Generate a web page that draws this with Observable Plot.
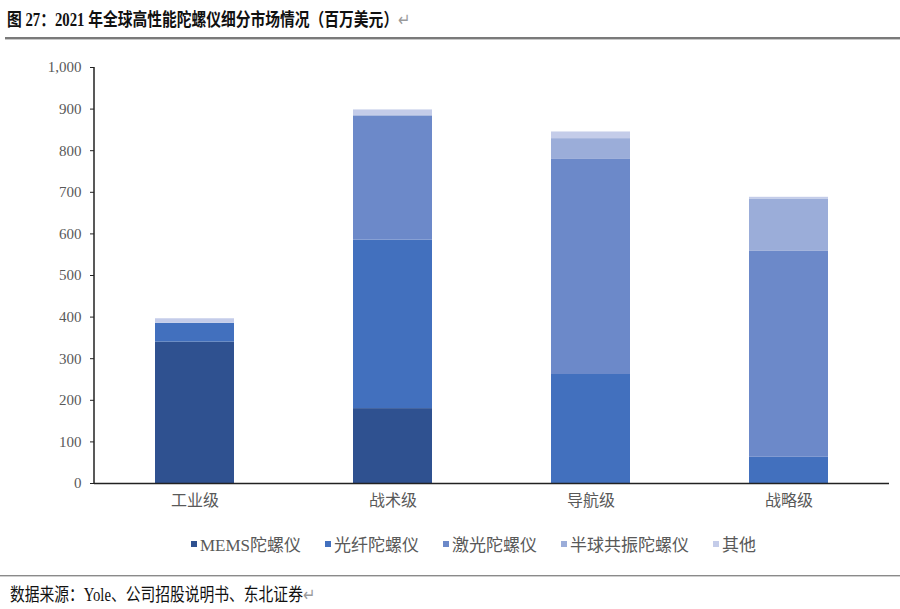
<!DOCTYPE html>
<html>
<head>
<meta charset="utf-8">
<script src="https://cdn.jsdelivr.net/npm/d3@7"></script>
<script src="https://cdn.jsdelivr.net/npm/@observablehq/plot@0.6"></script>
<style>
  html, body { margin: 0; padding: 0; background: #fff; }
  #wrap { position: relative; width: 900px; height: 609px; overflow: hidden; }
  #title { position: absolute; left: 7px; top: 5px; font-family: "Liberation Serif", "Noto Sans CJK SC", serif; font-weight: bold; font-size: 18px; color: #111; white-space: nowrap; transform: scaleX(0.82); transform-origin: left center; }
  .ret { color: #9a9a9a; font-weight: normal; }
  #tline { position: absolute; left: 5px; right: 0; top: 37px; height: 2px; background: #7a7a7a; border-bottom: 1px solid #c8c8c8; }
  #chart { position: absolute; left: 0; top: 50px; }
  #legend { position: absolute; left: 191px; top: 531px; display: flex; gap: 24px; font-family: "Liberation Serif", "Noto Sans CJK SC", serif; font-size: 17px; color: #595959; white-space: nowrap; }
  #legend .item { display: flex; align-items: center; }
  #legend .sw { width: 6px; height: 6px; margin-right: 3px; display: inline-block; }
  #fline { position: absolute; left: 0; right: 0; top: 575px; height: 1px; background: #8a8a8a; border-bottom: 1px solid #d0d0d0; }
  #footer { position: absolute; left: 10px; top: 580px; font-family: "Liberation Serif", "Noto Sans CJK SC", serif; font-size: 18px; color: #111; white-space: nowrap; transform: scaleX(0.82); transform-origin: left center; }
</style>
</head>
<body>
<div id="wrap">
  <div id="title">图 27：2021 年全球高性能陀螺仪细分市场情况（百万美元）<span class="ret">↵</span></div>
  <div id="tline"></div>
  <div id="chart"></div>
  <div id="legend"></div>
  <div id="fline"></div>
  <div id="footer">数据来源：Yole、公司招股说明书、东北证券<span class="ret">↵</span></div>
</div>
<script>
const categories = ["工业级", "战术级", "导航级", "战略级"];
const series = ["MEMS陀螺仪", "光纤陀螺仪", "激光陀螺仪", "半球共振陀螺仪", "其他"];
const colors = ["#2f5190", "#4270be", "#6c89c9", "#9badd9", "#c4cce9"];
const mems = [340, 180, 0, 0];
const fiber = [45, 405, 262, 63];
const laser = [0, 298, 517, 495];
const hrg = [0, 3, 50, 126];
const other = [11, 12, 16, 4];
const yTicks = [0, 100, 200, 300, 400, 500, 600, 700, 800, 900, 1000];

const seriesValues = [mems, fiber, laser, hrg, other];
const rows = [];
categories.forEach((c, i) => {
  series.forEach((s, j) => rows.push({ cat: c, series: s, value: seriesValues[j][i] }));
});

const plot = Plot.plot({
  width: 900,
  height: 470,
  marginTop: 17,
  marginBottom: 37,
  marginLeft: 94,
  marginRight: 11,
  x: { domain: categories, paddingInner: 0.6, paddingOuter: 0.3, label: null },
  y: { domain: [0, 1000], label: null },
  color: { domain: series, range: colors },
  style: { background: "#fff", overflow: "visible" },
  marks: [
    Plot.barY(rows, { x: "cat", y: "value", fill: "series", order: series }),
    Plot.axisY({ ticks: yTicks, tickFormat: d3.format(","), tickSize: 4, tickPadding: 9, stroke: "#222", fill: "#595959", fontSize: 15, fontFamily: "Liberation Serif, serif", label: null }),
    Plot.axisX({ tickSize: 0, tickPadding: 11, fill: "#595959", fontSize: 16, fontFamily: "Noto Sans CJK SC, sans-serif", label: null }),
    Plot.ruleY([0], { stroke: "#222", strokeWidth: 1.5 })
  ]
});

// y axis line drawn from the scales
const ys = plot.scale("y");
const xs = plot.scale("x");
d3.select(plot).append("line")
  .attr("x1", xs.range[0]).attr("x2", xs.range[0])
  .attr("y1", ys.apply(0)).attr("y2", ys.apply(1000))
  .attr("stroke", "#222").attr("stroke-width", 1.5);

document.getElementById("chart").appendChild(plot);

const legend = d3.select("#legend");
series.forEach((s, j) => {
  const it = legend.append("div").attr("class", "item");
  it.append("span").attr("class", "sw").style("background", colors[j]);
  it.append("span").text(s);
});
</script>
</body>
</html>
